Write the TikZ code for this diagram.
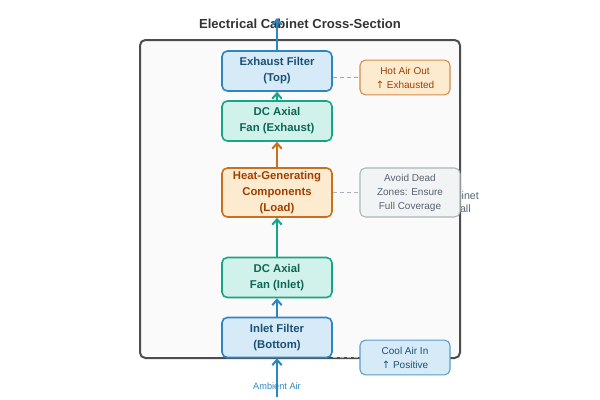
\documentclass[tikz,border=0pt]{standalone}
\usepackage{fontspec}
\setmainfont{Liberation Sans}
\newfontfamily\symfont{DejaVu Sans}
\usetikzlibrary{arrows.meta}
\definecolor{fltfill}{HTML}{D6EAF8}
\definecolor{fltdraw}{HTML}{2E86C1}
\definecolor{flttext}{HTML}{1A5276}
\definecolor{fanfill}{HTML}{D1F2EB}
\definecolor{fandraw}{HTML}{17A589}
\definecolor{fantext}{HTML}{0E6655}
\definecolor{ldfill}{HTML}{FDEBD0}
\definecolor{lddraw}{HTML}{CA6F1E}
\definecolor{ldtext}{HTML}{A04000}
\definecolor{gryfill}{HTML}{F2F3F4}
\definecolor{grydraw}{HTML}{AAB7B8}
\definecolor{grytext}{HTML}{566573}
\begin{document}
\begin{tikzpicture}
	[x=0.75pt,y=-0.75pt,
	every node/.style={align=center,rounded corners=4pt,inner sep=2pt},
	part/.style={draw,line width=1.2pt,minimum width=82.5pt,minimum height=30pt,font=\fontsize{8.5}{12}\selectfont\bfseries},
	filter/.style={part,fill=fltfill,draw=fltdraw,text=flttext},
	fan/.style={part,fill=fanfill,draw=fandraw,text=fantext},
	loadbox/.style={part,fill=ldfill,draw=lddraw,text=ldtext,minimum height=36.75pt},
	note/.style={draw,line width=0.8pt,minimum width=67.5pt,minimum height=26pt,font=\fontsize{7.5}{10.5}\selectfont},
	flow/.style={line width=1.5pt,-{Straight Barb[length=4pt,width=7pt]}},
	link/.style={line width=1pt,dash pattern=on 3pt off 2.2pt}]
	\useasboundingbox (0,0) rectangle (600,400);
	% cabinet
	\draw[line width=1.5pt,draw=black!70,fill=black!2,rounded corners=4pt] (140,40) rectangle (460,358);
	\node[font=\fontsize{8}{9.75}\selectfont,text=grytext] (wall) at (460.5,202) {Cabinet\\Wall};
	\node[font=\fontsize{9.8}{12}\selectfont\bfseries,text=black!80] (title) at (300,24) {Electrical Cabinet Cross-Section};
	% airflow path
	\node[filter] (exf) at (277,71) {Exhaust Filter\\(Top)};
	\node[fan] (exfan) at (277,121) {DC Axial\\Fan (Exhaust)};
	\node[loadbox] (heat) at (277,192.5) {Heat-Generating\\Components\\(Load)};
	\node[fan] (infan) at (277,277.5) {DC Axial\\Fan (Inlet)};
	\node[filter] (inf) at (277,337.5) {Inlet Filter\\(Bottom)};
	\node[font=\fontsize{6.9}{9}\selectfont,text=fltdraw] (amb) at (277,386) {Ambient Air};
	\coordinate (src) at (277,397);
	\coordinate (out) at (277,18);
	% notes
	\node[note,fill=ldfill,draw=lddraw!80,text=ldtext] (hot) at (405,77.5) {Hot Air Out\\{\symfont↑} Exhausted};
	\node[note,fill=gryfill,draw=grydraw,text=grytext,minimum width=75pt,minimum height=36.75pt] (dead) at (410,192.5) {Avoid Dead\\Zones: Ensure\\Full Coverage};
	\node[note,fill=fltfill,draw=fltdraw!80,text=flttext] (cool) at (405,357.5) {Cool Air In\\{\symfont↑} Positive};
	% arrows
	\draw[flow,fltdraw] (src) -- (inf);
	\draw[flow,fltdraw] (inf) -- (infan);
	\draw[flow,fandraw] (infan) -- (heat);
	\draw[flow,lddraw] (heat) -- (exfan);
	\draw[flow,fandraw] (exfan) -- (exf);
	\draw[flow,fltdraw] (exf) -- (out);
	\draw[link,lddraw!70] (exf.east |- hot.west) -- (hot.west);
	\draw[link,grydraw] (heat.east) -- (dead.west);
	\draw[link,grydraw] (inf.east |- cool.west) -- (cool.west);
\end{tikzpicture}
\end{document}
